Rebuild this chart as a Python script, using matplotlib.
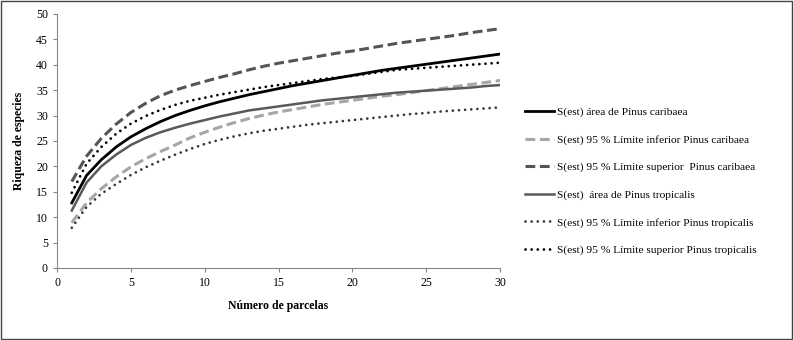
import matplotlib
matplotlib.use("Agg")
import matplotlib.pyplot as plt
from matplotlib.patches import Rectangle

plt.rcParams['font.family'] = ['Liberation Serif', 'DejaVu Serif']

# número de parcelas
parcelas = list(range(1, 31))

s_caribaea = [12.8, 18.2, 21.3, 23.8, 25.8, 27.4, 28.8, 30.0, 31.0, 31.9,
              32.7, 33.4, 34.1, 34.7, 35.3, 35.9, 36.4, 36.9, 37.4, 37.9,
              38.4, 38.9, 39.3, 39.7, 40.1, 40.5, 40.9, 41.3, 41.7, 42.1]
inf_caribaea = [8.9, 12.8, 15.6, 17.9, 19.9, 21.5, 22.9, 24.2, 25.6, 26.7,
                27.7, 28.6, 29.4, 30.1, 30.7, 31.2, 31.7, 32.2, 32.6, 33.0,
                33.4, 33.8, 34.1, 34.5, 34.9, 35.3, 35.7, 36.1, 36.5, 36.9]
sup_caribaea = [17.0, 22.0, 25.5, 28.3, 30.6, 32.4, 33.9, 35.0, 35.9, 36.7,
                37.5, 38.2, 39.0, 39.7, 40.3, 40.8, 41.3, 41.8, 42.3, 42.7,
                43.2, 43.7, 44.2, 44.6, 45.0, 45.4, 45.8, 46.3, 46.7, 47.1]
s_tropicalis = [11.3, 16.8, 20.0, 22.3, 24.2, 25.6, 26.7, 27.6, 28.4, 29.1,
                29.8, 30.4, 31.0, 31.4, 31.8, 32.2, 32.6, 33.0, 33.3, 33.6,
                33.9, 34.2, 34.5, 34.7, 34.9, 35.1, 35.3, 35.5, 35.8, 36.0]
inf_tropicalis = [7.9, 12.0, 14.6, 16.5, 18.3, 19.8, 21.1, 22.3, 23.4, 24.4,
                  25.2, 25.9, 26.5, 27.0, 27.4, 27.8, 28.2, 28.5, 28.8, 29.1,
                  29.4, 29.7, 30.0, 30.3, 30.5, 30.8, 31.0, 31.2, 31.4, 31.6]
sup_tropicalis = [14.8, 20.5, 23.8, 26.4, 28.4, 29.9, 31.1, 32.1, 32.9, 33.5,
                  34.1, 34.6, 35.1, 35.6, 36.0, 36.4, 36.8, 37.2, 37.5, 37.8,
                  38.2, 38.6, 39.0, 39.2, 39.4, 39.6, 39.8, 40.0, 40.2, 40.4]

etiquetas = ["S(est) área de Pinus caribaea",
             "S(est) 95 % Límite inferior Pinus caribaea",
             "S(est) 95 % Límite superior  Pinus caribaea",
             "S(est)  área de Pinus tropicalis",
             "S(est) 95 % Límite inferior Pinus tropicalis",
             "S(est) 95 % Límite superior Pinus tropicalis"]

fig = plt.figure(figsize=(7.94, 3.40), dpi=100)
ax = fig.add_axes([0.0718, 0.212, 0.558, 0.747])

guion = (0, (3.2, 1.5))
punto = (0, (0.01, 2.2))

ax.plot(parcelas, s_caribaea, color='black', lw=2.0, label=etiquetas[0])
ax.plot(parcelas, inf_caribaea, color='#a6a6a6', lw=2.2, linestyle=guion,
        dash_capstyle='butt', label=etiquetas[1])
ax.plot(parcelas, sup_caribaea, color='#555555', lw=2.2, linestyle=guion,
        dash_capstyle='butt', label=etiquetas[2])
ax.plot(parcelas, s_tropicalis, color='#595959', lw=1.8, label=etiquetas[3])
ax.plot(parcelas, inf_tropicalis, color='#3a3a3a', lw=2.0, linestyle=punto,
        dash_capstyle='round', label=etiquetas[4])
ax.plot(parcelas, sup_tropicalis, color='black', lw=2.0, linestyle=punto,
        dash_capstyle='round', label=etiquetas[5])

ax.set_xlim(0, 30)
ax.set_ylim(0, 50)
ax.set_xticks(range(0, 31, 5))
ax.set_yticks(range(0, 51, 5))
ax.tick_params(labelsize=8.5, length=3, color='#868686')
ax.spines['top'].set_visible(False)
ax.spines['right'].set_visible(False)
ax.spines['left'].set_color('#868686')
ax.spines['bottom'].set_color('#868686')

ax.set_xlabel("Número de parcelas", fontsize=8.5, fontweight='bold', labelpad=8)
ax.set_ylabel("Riqueza de especies", fontsize=8.5, fontweight='bold', labelpad=8)

fig.legend(loc='upper left', bbox_to_anchor=(0.648, 0.715), frameon=False,
           fontsize=8.2, handlelength=2.6, labelspacing=1.52, handletextpad=0.2)

# marco exterior
fig.patches.append(Rectangle((0.001, 0.002), 0.997, 0.995, transform=fig.transFigure,
                             fill=False, edgecolor='#444444', lw=1.0))

fig.savefig("out.png", dpi=100)
